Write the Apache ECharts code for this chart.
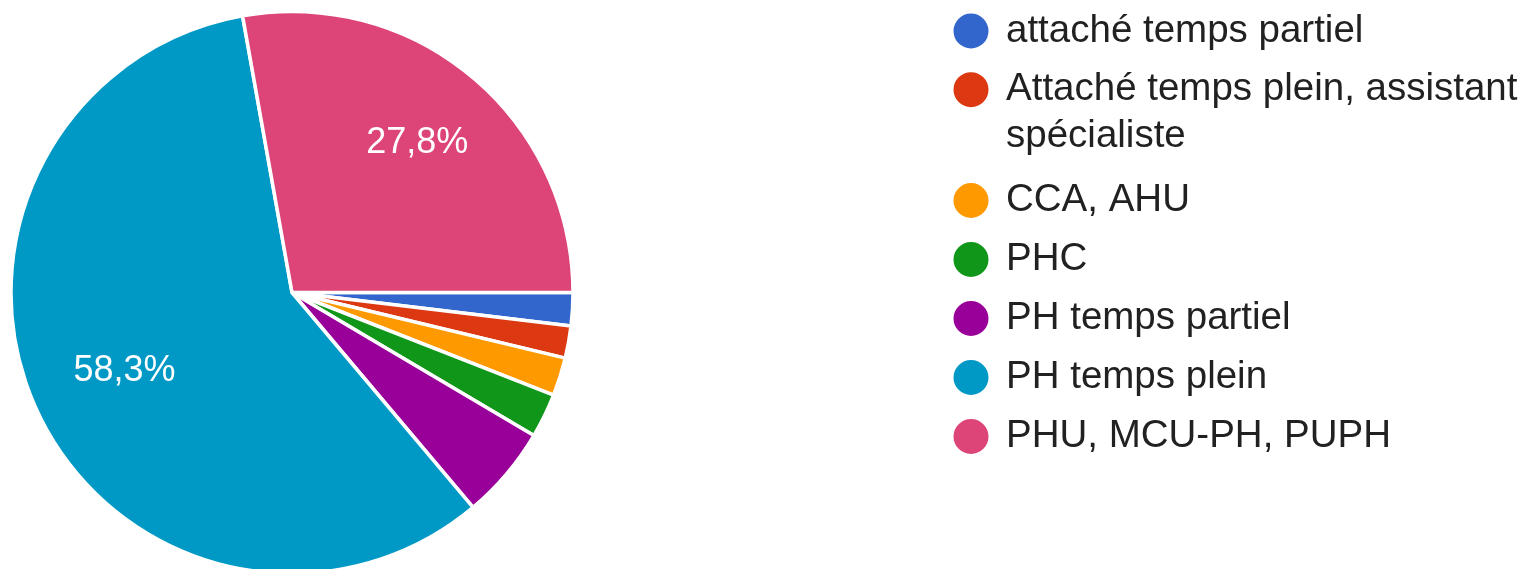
<!DOCTYPE html>
<html><head><meta charset="utf-8">
<script src="https://cdn.jsdelivr.net/npm/echarts@6/dist/echarts.min.js"></script>
<style>html,body{margin:0;padding:0;background:#fff}#c{width:1529px;height:569px}</style>
</head><body><div id="c"></div>
<script>
const categories = ['attaché temps partiel', 'Attaché temps plein, assistant spécialiste', 'CCA, AHU', 'PHC', 'PH temps partiel', 'PH temps plein', 'PHU, MCU-PH, PUPH'];
const legendLabels = ['attaché temps partiel', '\nAttaché temps plein, assistant\nspécialiste', 'CCA, AHU', 'PHC', 'PH temps partiel', 'PH temps plein', 'PHU, MCU-PH, PUPH'];
const values = [1.9, 1.85, 2.2, 2.55, 5.35, 58.3, 27.8];
const colors = ['#3366cc', '#dc3912', '#ff9900', '#109618', '#990099', '#0099c6', '#dd4477'];

const FONT = "'Liberation Sans', Arial, sans-serif";
const data = categories.map((n, i) => ({ name: n, value: values[i], itemStyle: { color: colors[i] } }));
const fmtLegend = name => legendLabels[categories.indexOf(name)];

const baseText = { fontFamily: FONT, fontSize: 38.5, color: '#212121', lineHeight: 42 };
const legendBase = {
  orient: 'vertical', left: 951.5, padding: 0, icon: 'circle',
  itemWidth: 60, itemHeight: 37, itemGap: 17, selectedMode: false,
  formatter: fmtLegend,
  textStyle: baseText
};

// transparent overlay pie used only to place one percentage label at a given radius
function labelPie(r0, showName) {
  return {
    type: 'pie', center: [292, 292.5], radius: [r0, 281], startAngle: 0, clockwise: true,
    avoidLabelOverlap: false, silent: true,
    itemStyle: { color: 'rgba(0,0,0,0)', borderWidth: 0 },
    labelLine: { show: false },
    label: {
      show: true, position: 'inside', color: '#ffffff', fontFamily: FONT, fontSize: 36,
      padding: [6, 0, 0, 0],
      formatter: p => p.name === showName ? p.percent.toFixed(1).replace('.', ',') + '%' : ''
    },
    data: categories.map((n, i) => ({ name: n, value: values[i] }))
  };
}

const chart = echarts.init(document.getElementById('c'));
chart.setOption({
  animation: false,
  legend: [
    Object.assign({}, legendBase, { top: 10, data: [categories[0]] }),
    Object.assign({}, legendBase, { top: 19.2, data: [categories[1]],
      textStyle: Object.assign({}, baseText, { lineHeight: 47 }) }),
    Object.assign({}, legendBase, { top: 179.5, data: categories.slice(2) })
  ],
  series: [
    {
      type: 'pie', center: [292, 292.5], radius: [0, 281], startAngle: 0, clockwise: true,
      avoidLabelOverlap: false, silent: true,
      itemStyle: { borderColor: '#ffffff', borderWidth: 3.5 },
      label: { show: false }, labelLine: { show: false },
      data: data
    },
    labelPie(103, categories[6]),
    labelPie(83, categories[5])
  ]
});
</script></body></html>
